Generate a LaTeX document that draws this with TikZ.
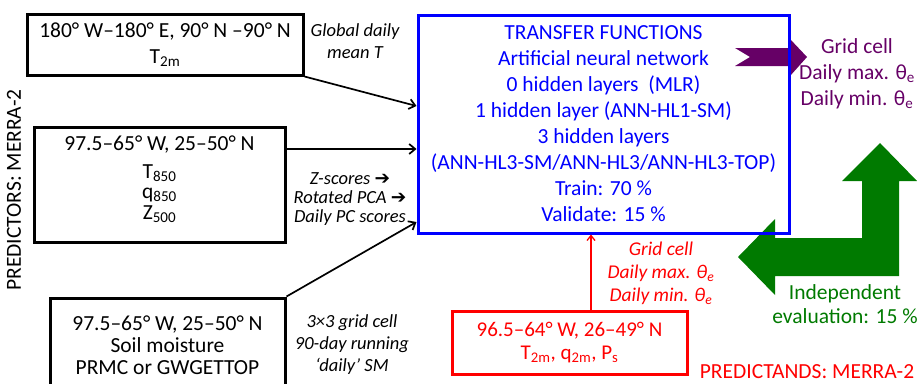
\documentclass[tikz,border=0pt]{standalone}
\usepackage{fontspec}
\setmainfont{Carlito}
\newfontfamily\symfont{DejaVu Sans}
\usetikzlibrary{arrows.meta,positioning,calc}
\definecolor{tfblue}{RGB}{0,0,255}
\definecolor{gridpurple}{RGB}{102,0,102}
\definecolor{evalgreen}{RGB}{0,122,0}
\definecolor{obsred}{RGB}{255,0,0}

\begin{document}
\begin{tikzpicture}[x=1pt, y=-1pt,
    box/.style={draw, line width=3pt, align=center, inner sep=0pt, font=\fontsize{21.5}{26}\selectfont},
    note/.style={align=center, font=\fontsize{18.5}{22}\selectfont\itshape},
    plain/.style={align=center, font=\fontsize{21.5}{26}\selectfont},
    arrow/.style={-{Straight Barb[length=6pt,width=10pt]}, line width=1.7pt}
]
\clip (0,0) rectangle (917,383);
\fill[evalgreen] (880,143) -- (917,181) -- (899,181) -- (899,276) -- (775,276) -- (775,295) -- (738,257) -- (775,219) -- (775,238) -- (862,238) -- (862,181) -- (842,181) -- cycle;
\fill[gridpurple] (735,48) -- (790,48) -- (790,39) -- (807,57) -- (790,76) -- (790,66) -- (735,66) -- (750,57) -- cycle;
\node[box, minimum width=276pt, minimum height=61pt] (glob) at (165,44.5) {180° W–180° E, 90° N –90° N\\T\textsubscript{2m}};
\node[box, minimum width=251pt, minimum height=115pt] (regional) at (159.5,184.5) {97.5–65° W, 25–50° N\\[2pt]T\textsubscript{850}\\[-6pt]q\textsubscript{850}\\[-5pt]Z\textsubscript{500}\rule[-14pt]{0pt}{0pt}};
\node[box, minimum width=235pt, minimum height=94pt, font=\fontsize{21.5}{22}\selectfont] (soil) at (167.5,345) {97.5–65° W, 25–50° N\\Soil moisture\\PRMC or GWGETTOP};
\node[box, draw=tfblue, text=tfblue, minimum width=371pt, minimum height=218pt] (tf) at (603.5,124) {TRANSFER FUNCTIONS\\Artificial neural network\\0 hidden layers~ (MLR)\\1 hidden layer (ANN-HL1-SM)\\3 hidden layers\\(ANN-HL3-SM/ANN-HL3/ANN-HL3-TOP)\\Train: 70 \%\\Validate: 15 \%};
\node[box, draw=obsred, text=obsred, minimum width=235pt, minimum height=63pt, font=\fontsize{21}{23}\selectfont] (station) at (569.5,342.5) {96.5–64° W, 26–49° N\\T\textsubscript{2m}, q\textsubscript{2m}, P\textsubscript{s}};
\node[note] (globnote) at (355,41) {Global daily\\mean T};
\node[note, font=\fontsize{18.5}{19}\selectfont\itshape] (pcanote) at (350,199.5) {Z-scores {\symfont\upshape ➔}\\Rotated PCA {\symfont\upshape ➔}\\Daily PC scores};
\node[note] (soilnote) at (352,345) {3×3 grid cell\\90-day running\\‘daily’ SM};
\node[note, text=obsred, font=\fontsize{19.5}{23}\selectfont\itshape] (stationnote) at (661,273) {Grid cell\\Daily max. θ\textsubscript{e}\\Daily min. θ\textsubscript{e}};
\node[plain, text=gridpurple] (gridout) at (857,74) {Grid cell\\Daily max. θ\textsubscript{e}\\Daily min. θ\textsubscript{e}};
\node[plain, text=evalgreen, font=\fontsize{21.5}{24}\selectfont] (evalnote) at (845,304) {Independent\\evaluation: 15 \%};
\node[plain, text=obsred] (predictands) at (807,372) {PREDICTANDS: MERRA-2};
\node[plain, rotate=90] (predictors) at (14,190) {PREDICTORS: MERRA-2};
\draw[arrow] (glob.south east) -- ([yshift=18pt]tf.west);
\draw[arrow] ([yshift=35.5pt]regional.east) -- ([yshift=35.5pt]regional.east -| tf.west);
\draw[arrow] (soil.north east) -- ([yshift=-98pt]tf.west);
\draw[arrow, draw=obsred, line width=1.3pt, -{Straight Barb[length=5pt,width=8pt]}] ([xshift=21.5pt]station.north) -- ([xshift=-12.5pt]tf.south);
\end{tikzpicture}
\end{document}
